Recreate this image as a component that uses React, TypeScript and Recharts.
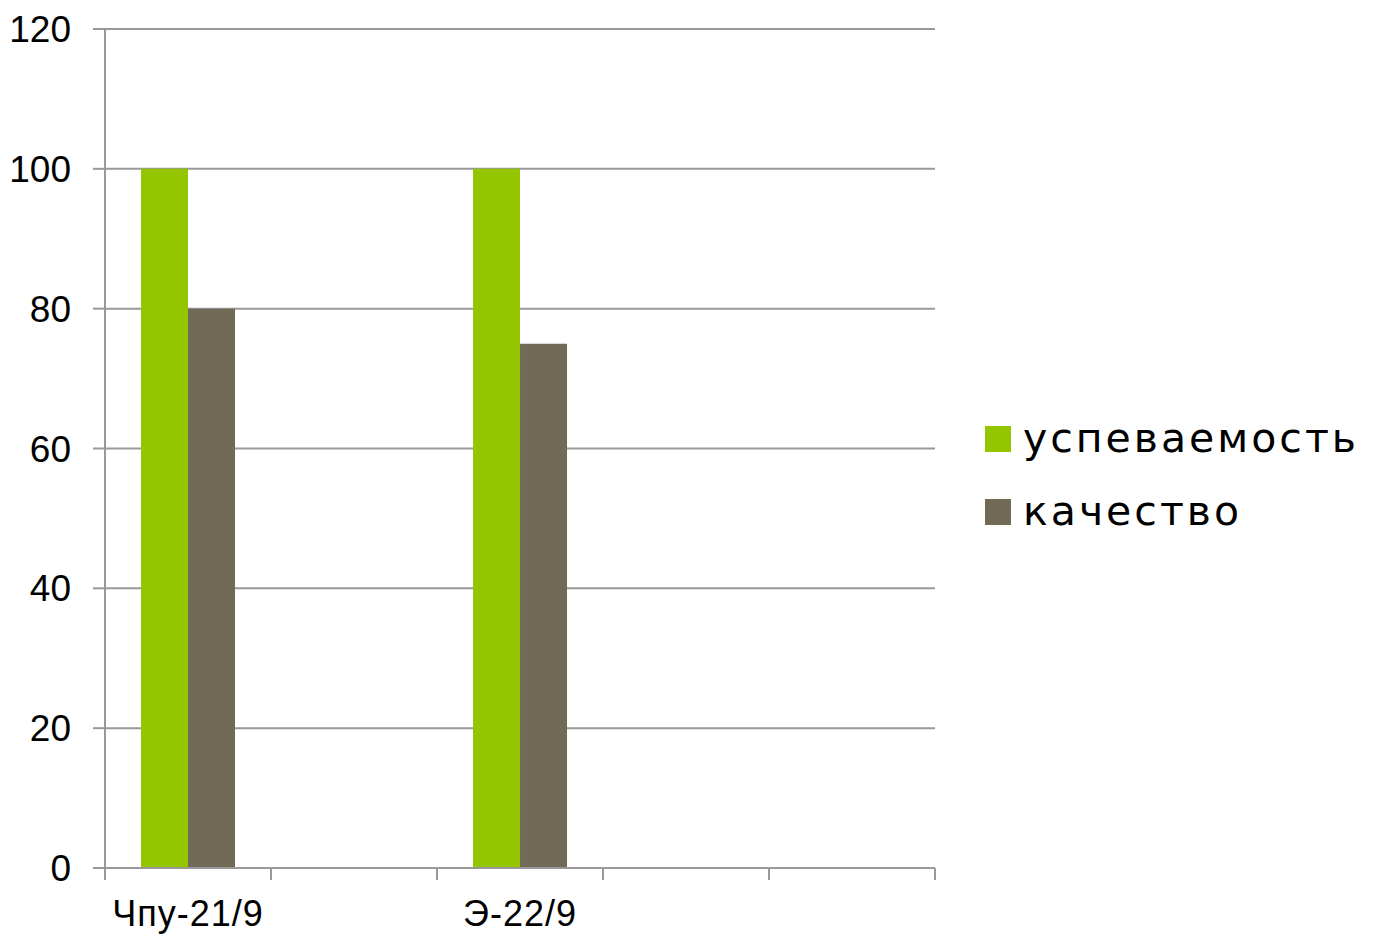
import React from 'react';
import { BarChart, Bar, XAxis, YAxis, CartesianGrid, Legend } from 'recharts';

const categories = ['Чпу-21/9', '', 'Э-22/9', '', ''];
const uspevaemost = [100, null, 100, null, null];
const kachestvo = [80, null, 75, null, null];
const yTicks = [0, 20, 40, 60, 80, 100, 120];
const seriesNames = ['успеваемость', 'качество'];
const seriesColors = ['#94C600', '#736957'];

const data = categories.map((name, i) => ({
  name,
  s1: uspevaemost[i],
  s2: kachestvo[i],
}));

const FONT = '"Liberation Sans", Arial, sans-serif';
const LFONT = '"DejaVu Sans", sans-serif';
const AXIS = '#999999';

const XTick = (props: any) => {
  const { x, y, payload, index, visibleTicksCount } = props;
  const off = payload.offset || 0;
  const axisY = y - 12;
  const isLast = index === visibleTicksCount - 1;
  return (
    <g>
      <line x1={x - off} x2={x - off} y1={axisY} y2={axisY + 12} stroke={AXIS} strokeWidth={2} />
      {isLast && <line x1={x + off} x2={x + off} y1={axisY} y2={axisY + 12} stroke={AXIS} strokeWidth={2} />}
      <text x={x} y={y} dy={46} textAnchor="middle" fill="#000" fontSize={36} fontFamily={FONT} letterSpacing={1}>
        {payload.value}
      </text>
    </g>
  );
};

const LegendContent = () => (
  <div style={{ fontFamily: LFONT }}>
    {seriesNames.map((n, i) => (
      <div key={n} style={{ display: 'flex', alignItems: 'center', height: 73 }}>
        <div style={{ width: 26, height: 26, background: seriesColors[i], marginRight: 12 }} />
        <span style={{ fontSize: 41, color: '#000', lineHeight: 1, letterSpacing: 3 }}>{n}</span>
      </div>
    ))}
  </div>
);

export default function App() {
  return (
    <div style={{ position: 'absolute', left: 0, top: 0, width: 1374, height: 936, background: '#fff' }}>
      <BarChart
        width={1374}
        height={936}
        data={data}
        margin={{ top: 29, right: 50, bottom: 0, left: 0 }}
        barCategoryGap="21.7%"
        barGap={0}
      >
        <CartesianGrid vertical={false} stroke={AXIS} strokeWidth={2} />
        <XAxis
          dataKey="name"
          height={68}
          axisLine={{ stroke: AXIS, strokeWidth: 2 }}
          tickLine={false}
          tickSize={12}
          tickMargin={0}
          interval={0}
          tick={<XTick />}
        />
        <YAxis
          width={105}
          domain={[0, 120]}
          ticks={yTicks}
          axisLine={{ stroke: AXIS, strokeWidth: 2 }}
          tickLine={{ stroke: AXIS, strokeWidth: 2 }}
          tickSize={12}
          tickMargin={22}
          tick={{ fill: '#000', fontSize: 37, fontFamily: FONT }}
        />
        <Legend
          layout="vertical"
          align="right"
          verticalAlign="middle"
          content={<LegendContent />}
          wrapperStyle={{ position: 'absolute', left: 985, top: 402, width: 389, height: 146 }}
        />
        <Bar dataKey="s1" name={seriesNames[0]} fill={seriesColors[0]} isAnimationActive={false} />
        <Bar dataKey="s2" name={seriesNames[1]} fill={seriesColors[1]} isAnimationActive={false} />
      </BarChart>
    </div>
  );
}
